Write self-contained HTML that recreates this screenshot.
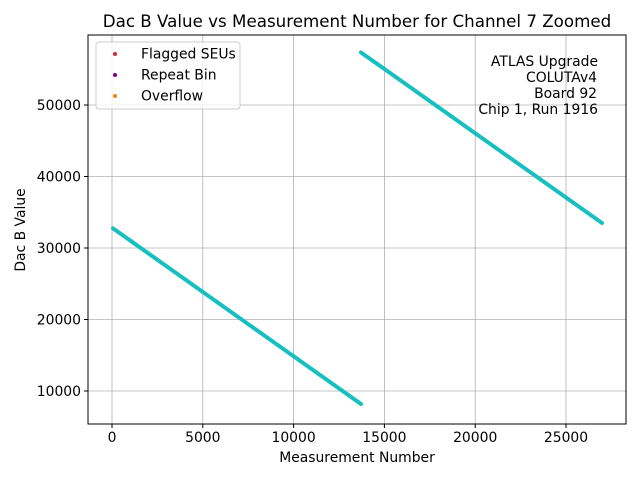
<!DOCTYPE html>
<html><head><meta charset="utf-8"><style>
body{margin:0;background:#fff}
svg text{font-family:"DejaVu Sans","Liberation Sans",sans-serif;fill:#000}
</style></head><body>
<svg id="chart" width="640" height="480" viewBox="0 0 640 480">
<rect x="0" y="0" width="640" height="480" fill="#fff"/>
<g id="grid"></g>
<g id="series"></g>
<rect x="88" y="35" width="538" height="389" fill="none" stroke="#000" stroke-width="1"/>
<g id="ticks"></g>
<text x="357" y="27" font-size="16.7" text-anchor="middle">Dac B Value vs Measurement Number for Channel 7 Zoomed</text>
<text x="357" y="462" font-size="13.9" text-anchor="middle">Measurement Number</text>
<text x="25" y="230" font-size="13.9" text-anchor="middle" transform="rotate(-90 25 230)">Dac B Value</text>
<g font-size="13.9">
<text x="598" y="66" text-anchor="end">ATLAS Upgrade</text>
<text x="597" y="82" text-anchor="end">COLUTAv4</text>
<text x="597" y="98" text-anchor="end">Board 92</text>
<text x="598" y="114" text-anchor="end">Chip 1, Run 1916</text>
</g>
<g>
<rect x="96" y="42" width="144" height="67" rx="3" fill="#fff" fill-opacity="0.8" stroke="#ccc"/>
<g><circle cx="115" cy="54" r="2" fill="#d62728"/><text x="141" y="58.5" font-size="13.9">Flagged SEUs</text></g>
<g><circle cx="115" cy="75" r="2" fill="#800080"/><text x="141" y="79.5" font-size="13.9">Repeat Bin</text></g>
<g><circle cx="115" cy="96" r="2" fill="#ff7f0e"/><text x="141" y="100.5" font-size="13.9">Overflow</text></g>
</g>
</svg>
<script>
const xTicks=[0,5000,10000,15000,20000,25000];
const yTicks=[10000,20000,30000,40000,50000];
const seg1X=[55,13711];
const seg1Y=[32750,8180];
const seg2X=[13711,26982];
const seg2Y=[57350,33500];
const NS="http://www.w3.org/2000/svg";
const L=88,R=626,T=35,B=424;
function sx(v){return 112+v*454/25000;}
function sy(v){return 391-(v-10000)*286/40000;}
const grid=document.getElementById('grid'),ticks=document.getElementById('ticks'),ser=document.getElementById('series');
function mk(tag,attrs,parent){const e=document.createElementNS(NS,tag);for(const k in attrs)e.setAttribute(k,attrs[k]);parent.appendChild(e);return e;}
xTicks.forEach(v=>{const x=sx(v);
 const g=mk('line',{x1:x,x2:x,y1:T,y2:B,stroke:'#b0b0b0','stroke-width':0.8},grid);
 
 
 const t=mk('line',{x1:x,x2:x,y1:B,y2:B+4,stroke:'#000'},ticks);
 
 
 const tx=mk('text',{x:x,y:B+18,'font-size':13.9,'text-anchor':'middle'},ticks);tx.textContent=v;
 
 
});
yTicks.forEach(v=>{const y=sy(v);
 const g=mk('line',{x1:L,x2:R,y1:y,y2:y,stroke:'#b0b0b0','stroke-width':0.8},grid);
 
 
 const t=mk('line',{x1:L-4,x2:L,y1:y,y2:y,stroke:'#000'},ticks);
 
 
 const tx=mk('text',{x:L-7,y:y+5,'font-size':13.9,'text-anchor':'end'},ticks);tx.textContent=v;
 
 
});
[[seg1X,seg1Y,'data-segment-1'],[seg2X,seg2Y,'data-segment-2']].forEach(([xs,ys,n])=>{
 const p=mk('polyline',{points:xs.map((x,i)=>sx(x)+','+sy(ys[i])).join(' '),fill:'none',stroke:'#17bfbf','stroke-width':4,'stroke-linecap':'round'},ser);
 
 
});
</script>
</body></html>
